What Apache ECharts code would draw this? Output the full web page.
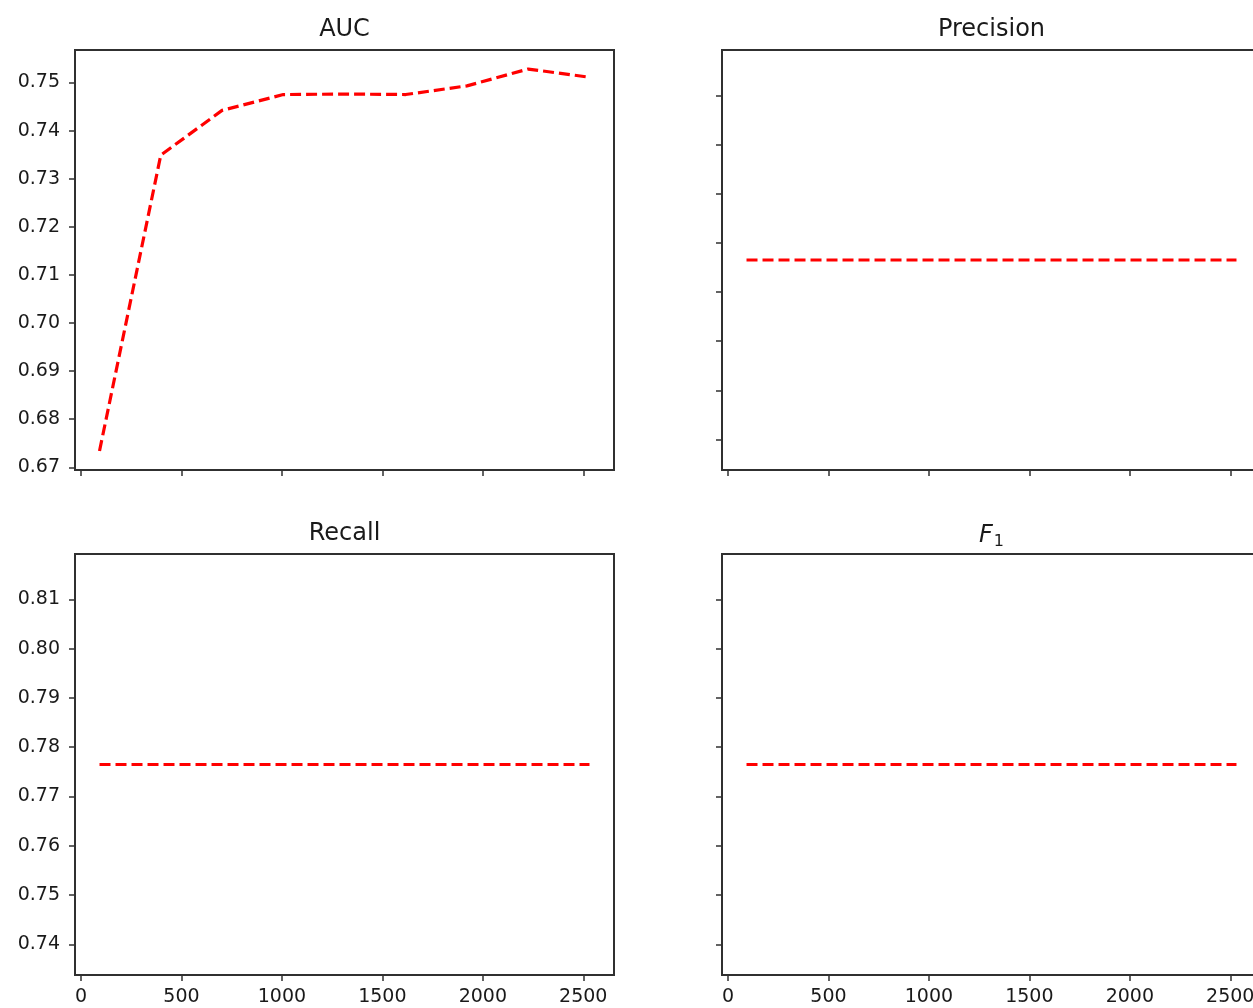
<!DOCTYPE html>
<html>
<head>
<meta charset="utf-8">
<script src="https://cdn.jsdelivr.net/npm/echarts@6/dist/echarts.min.js"></script>
<style>
  html, body { margin: 0; padding: 0; background: #ffffff; }
  #chart { width: 1253px; height: 1008px; }
</style>
</head>
<body>
<div id="chart"></div>
<script>
// ---- data ----
const xValues = [92, 397, 702, 1007, 1312, 1616, 1921, 2226, 2531];
const aucValues = [0.6734, 0.7349, 0.7442, 0.7475, 0.7476, 0.7475, 0.7493, 0.7528, 0.7511];
const precisionValues = [0.7765, 0.7765, 0.7765, 0.7765, 0.7765, 0.7765, 0.7765, 0.7765, 0.7765];
const recallValues = [0.7765, 0.7765, 0.7765, 0.7765, 0.7765, 0.7765, 0.7765, 0.7765, 0.7765];
const f1Values = [0.7765, 0.7765, 0.7765, 0.7765, 0.7765, 0.7765, 0.7765, 0.7765, 0.7765];

const xTicks = [0, 500, 1000, 1500, 2000, 2500];
const aucTicks = [0.67, 0.68, 0.69, 0.70, 0.71, 0.72, 0.73, 0.74, 0.75];
const rateTicks = [0.74, 0.75, 0.76, 0.77, 0.78, 0.79, 0.80, 0.81];

const titles = ['AUC', 'Precision', 'Recall', '{i|F}{s|1}'];

// ---- layout / style ----
const TXT = '#1a1a1a';
const SPINE = '#303030';
const FONT = 'DejaVu Sans';
const grids = [
  { left: 75, top: 50, width: 539, height: 420 },
  { left: 722, top: 50, width: 539, height: 420 },
  { left: 75, top: 554, width: 539, height: 421 },
  { left: 722, top: 554, width: 539, height: 421 }
];
const xRange = { min: -30, max: 2653 };
const yRanges = [
  { min: 0.66944, max: 0.75676 },
  { min: 0.73379, max: 0.81921 },
  { min: 0.73379, max: 0.81921 },
  { min: 0.73379, max: 0.81921 }
];
const yTickSets = [aucTicks, rateTicks, rateTicks, rateTicks];
const seriesData = [aucValues, precisionValues, recallValues, f1Values];

function pairs(xs, ys) { return xs.map((x, i) => [x, ys[i]]); }

const option = {
  animation: false,
  backgroundColor: '#ffffff',
  title: grids.map((g, i) => ({
    text: titles[i],
    left: g.left + g.width / 2,
    top: (i < 2 ? 18 : 522),
    textAlign: 'center',
    padding: 0,
    textStyle: {
      fontFamily: FONT, fontSize: 24, fontWeight: 'normal', color: TXT,
      rich: {
        i: { fontFamily: FONT, fontSize: 24, fontStyle: 'italic', color: TXT },
        s: { fontFamily: FONT, fontSize: 16, color: TXT, padding: [12, 0, 0, 1] }
      }
    }
  })),
  grid: grids.map(g => Object.assign({
    show: true, borderColor: SPINE, borderWidth: 2, backgroundColor: 'transparent',
    containLabel: false, outerBoundsMode: 'none'
  }, g)),
  xAxis: grids.map((g, i) => ({
    type: 'value', gridIndex: i, min: xRange.min, max: xRange.max,
    splitLine: { show: false },
    axisLine: { show: true, onZero: false, lineStyle: { color: SPINE, width: 2 } },
    axisTick: { show: true, length: 6, lineStyle: { color: SPINE, width: 1.5 }, customValues: xTicks },
    axisLabel: {
      show: i >= 2, customValues: xTicks, margin: 13,
      fontFamily: FONT, fontSize: 19, color: TXT,
      showMinLabel: true, showMaxLabel: true,
      formatter: v => String(v)
    }
  })),
  yAxis: grids.map((g, i) => ({
    type: 'value', gridIndex: i, min: yRanges[i].min, max: yRanges[i].max,
    splitLine: { show: false },
    axisLine: { show: true, onZero: false, lineStyle: { color: SPINE, width: 2 } },
    axisTick: { show: true, length: 6, lineStyle: { color: SPINE, width: 1.5 }, customValues: yTickSets[i] },
    axisLabel: {
      show: i % 2 === 0, customValues: yTickSets[i], margin: 15,
      fontFamily: FONT, fontSize: 19, color: TXT,
      formatter: v => v.toFixed(2)
    }
  })),
  series: seriesData.map((d, i) => ({
    type: 'line', xAxisIndex: i, yAxisIndex: i,
    data: pairs(xValues, d),
    showSymbol: false, symbol: 'none',
    lineStyle: { color: '#ff0000', width: 3.2, type: [11, 5] },
    silent: true
  }))
};

const chart = echarts.init(document.getElementById('chart'), null, { renderer: 'canvas' });
chart.setOption(option);
</script>
</body>
</html>
